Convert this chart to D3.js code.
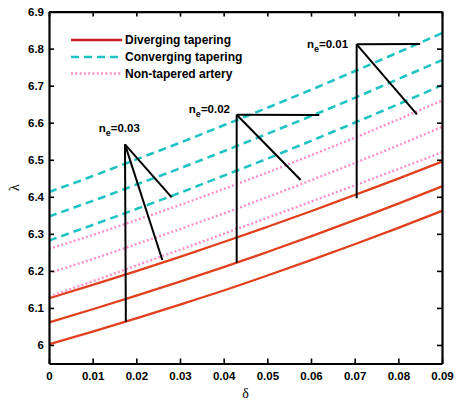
<!DOCTYPE html>
<html><head><meta charset="utf-8">
<script src="https://cdn.jsdelivr.net/npm/d3@7/dist/d3.min.js"></script>
<style>
html,body{margin:0;padding:0;background:#fff;}
svg{display:block;}
</style></head>
<body>
<svg id="chart" width="461" height="403"></svg>
<script>
// ---- data ----
const delta = [0, 0.01, 0.02, 0.03, 0.04, 0.05, 0.06, 0.07, 0.08, 0.09];

const divergingTop = [6.126, 6.162, 6.1995, 6.238, 6.278, 6.319, 6.361, 6.405, 6.449, 6.495];
const divergingMid = [6.061, 6.0965, 6.133, 6.171, 6.210, 6.251, 6.293, 6.337, 6.3815, 6.428];
const divergingBot = [6.002, 6.036, 6.072, 6.109, 6.147, 6.1875, 6.229, 6.272, 6.316, 6.362];

const convergingTop = [6.413, 6.456, 6.501, 6.546, 6.593, 6.6405, 6.689, 6.739, 6.790, 6.842];
const convergingMid = [6.347, 6.389, 6.433, 6.477, 6.523, 6.570, 6.618, 6.667, 6.718, 6.769];
const convergingBot = [6.282, 6.324, 6.367, 6.411, 6.457, 6.503, 6.551, 6.600, 6.650, 6.7015];

const nonTaperedTop = [6.2595, 6.297, 6.337, 6.378, 6.421, 6.4655, 6.512, 6.5595, 6.609, 6.660];
const nonTaperedMid = [6.194, 6.232, 6.272, 6.313, 6.355, 6.399, 6.4445, 6.491, 6.539, 6.589];
const nonTaperedBot = [6.1306, 6.172, 6.2145, 6.257, 6.300, 6.343, 6.387, 6.431, 6.475, 6.520];

const xTicks = [0, 0.01, 0.02, 0.03, 0.04, 0.05, 0.06, 0.07, 0.08, 0.09];
const xTickLabels = ["0", "0.01", "0.02", "0.03", "0.04", "0.05", "0.06", "0.07", "0.08", "0.09"];
const yTicks = [6, 6.1, 6.2, 6.3, 6.4, 6.5, 6.6, 6.7, 6.8, 6.9];
const yTickLabels = ["6", "6.1", "6.2", "6.3", "6.4", "6.5", "6.6", "6.7", "6.8", "6.9"];

const legendLabels = ["Diverging tapering", "Converging tapering", "Non-tapered artery"];

// annotation labels and their pointer segments (data coordinates)
const annoLabels = ["0.03", "0.02", "0.01"];
const annoLabelPos = [[0.0208, 6.576], [0.04145, 6.627], [0.0685, 6.8025]];
const annoSegments = [
  [[[0.0174, 6.5417], [0.0281, 6.3987]], [[0.0174, 6.5417], [0.02595, 6.2294]], [[0.0174, 6.5417], [0.0176, 6.0628]]],
  [[[0.04298, 6.6215], [0.0619, 6.6208]], [[0.04298, 6.6215], [0.05764, 6.4454]], [[0.04298, 6.6215], [0.04298, 6.2221]]],
  [[[0.07046, 6.8117], [0.085, 6.8125]], [[0.07046, 6.8117], [0.08426, 6.6227]], [[0.07046, 6.8117], [0.07046, 6.396]]]
];

// ---- layout ----
const margin = {left: 49, right: 19, top: 11.6, bottom: 39.5};
const W = 461, H = 403;
const svg = d3.select("#chart");
const x = d3.scaleLinear().domain([0, 0.09]).range([margin.left, W - margin.right]);
const y = d3.scaleLinear().domain([5.95, 6.9]).range([H - margin.bottom, margin.top]);

const RED = "#e2401c", CYAN = "#1fc3c3", PINK = "#ff8fcb";
const font = "'Liberation Sans', Arial, Helvetica, sans-serif";

const series = [
  {vals: divergingTop, color: RED, dash: null, w: 2.3},
  {vals: divergingMid, color: RED, dash: null, w: 2.3},
  {vals: divergingBot, color: RED, dash: null, w: 2.3},
  {vals: convergingTop, color: CYAN, dash: "8,5", w: 2.6},
  {vals: convergingMid, color: CYAN, dash: "8,5", w: 2.6},
  {vals: convergingBot, color: CYAN, dash: "8,5", w: 2.6},
  {vals: nonTaperedTop, color: PINK, dash: "2,2.3", w: 2.4},
  {vals: nonTaperedMid, color: PINK, dash: "2,2.3", w: 2.4},
  {vals: nonTaperedBot, color: PINK, dash: "2,2.3", w: 2.4}
];

const line = d3.line().x((d, i) => x(delta[i])).y(d => y(d)).curve(d3.curveMonotoneX);

const plot = svg.append("g");
plot.selectAll("path.series").data(series).join("path")
  .attr("class", "series")
  .attr("d", d => line(d.vals))
  .attr("fill", "none")
  .attr("stroke", d => d.color)
  .attr("stroke-width", d => d.w)
  .attr("stroke-dasharray", d => d.dash);

// annotations
const segLine = d3.line().x(d => x(d[0])).y(d => y(d[1]));
annoSegments.forEach((segs, k) => {
  segs.forEach(s => {
    svg.append("path").attr("d", segLine(s))
      .attr("stroke", "#000").attr("stroke-width", 2).attr("fill", "none");
  });
  const t = svg.append("text")
    .attr("x", x(annoLabelPos[k][0])).attr("y", y(annoLabelPos[k][1]))
    .attr("text-anchor", "end")
    .attr("font-family", font).attr("font-weight", "bold").attr("font-size", 11.5)
    .attr("fill", "#000");
  t.append("tspan").text("n");
  t.append("tspan").attr("dy", 4).attr("font-size", 9).text("e");
  t.append("tspan").attr("dy", -4).text("=" + annoLabels[k]);
});

// legend
const legendStyles = [
  {color: "#cc1a22", dash: null, w: 2.6},
  {color: CYAN, dash: "8,5", w: 2.6},
  {color: PINK, dash: "2,2.3", w: 2.4}
];
const legY = [40, 57, 73.5];
legendLabels.forEach((lab, i) => {
  svg.append("line").attr("x1", 71).attr("x2", 122).attr("y1", legY[i]).attr("y2", legY[i])
    .attr("stroke", legendStyles[i].color).attr("stroke-width", legendStyles[i].w)
    .attr("stroke-dasharray", legendStyles[i].dash);
  svg.append("text").attr("x", 125).attr("y", legY[i] + 4.2)
    .attr("font-family", font).attr("font-weight", "bold").attr("font-size", 12)
    .attr("fill", "#000").text(lab);
});

// axes (MATLAB-style box with inward ticks)
const axB = svg.append("g").attr("transform", `translate(0,${y(5.95)})`)
  .call(d3.axisBottom(x).tickValues(xTicks).tickFormat((d, i) => xTickLabels[i]).tickSizeInner(-5).tickSizeOuter(0).tickPadding(8));
const axT = svg.append("g").attr("transform", `translate(0,${y(6.9)})`)
  .call(d3.axisTop(x).tickValues(xTicks).tickFormat("").tickSizeInner(-5).tickSizeOuter(0));
const axL = svg.append("g").attr("transform", `translate(${x(0)},0)`)
  .call(d3.axisLeft(y).tickValues(yTicks).tickFormat((d, i) => yTickLabels[i]).tickSizeInner(-5).tickSizeOuter(0).tickPadding(5));
const axR = svg.append("g").attr("transform", `translate(${x(0.09)},0)`)
  .call(d3.axisRight(y).tickValues(yTicks).tickFormat("").tickSizeInner(-5).tickSizeOuter(0));

[axB, axT, axL, axR].forEach(a => {
  a.select(".domain").attr("stroke", "#000").attr("stroke-width", 2.2);
  a.selectAll(".tick line").attr("stroke", "#000").attr("stroke-width", 1.6);
  a.selectAll("text").attr("font-family", font).attr("font-weight", "bold")
    .attr("font-size", 11.5).attr("fill", "#000");
});

// axis titles
svg.append("text").attr("x", x(0.045)).attr("y", 398)
  .attr("text-anchor", "middle").attr("font-family", "'Liberation Serif','Times New Roman',serif")
  .attr("font-size", 14).attr("fill", "#000").text("δ");
svg.append("text").attr("transform", `translate(19,${y(6.425)}) rotate(-90)`)
  .attr("text-anchor", "middle").attr("font-family", "'Liberation Serif','Times New Roman',serif")
  .attr("font-size", 14).attr("fill", "#000").text("λ");
</script>
</body></html>
